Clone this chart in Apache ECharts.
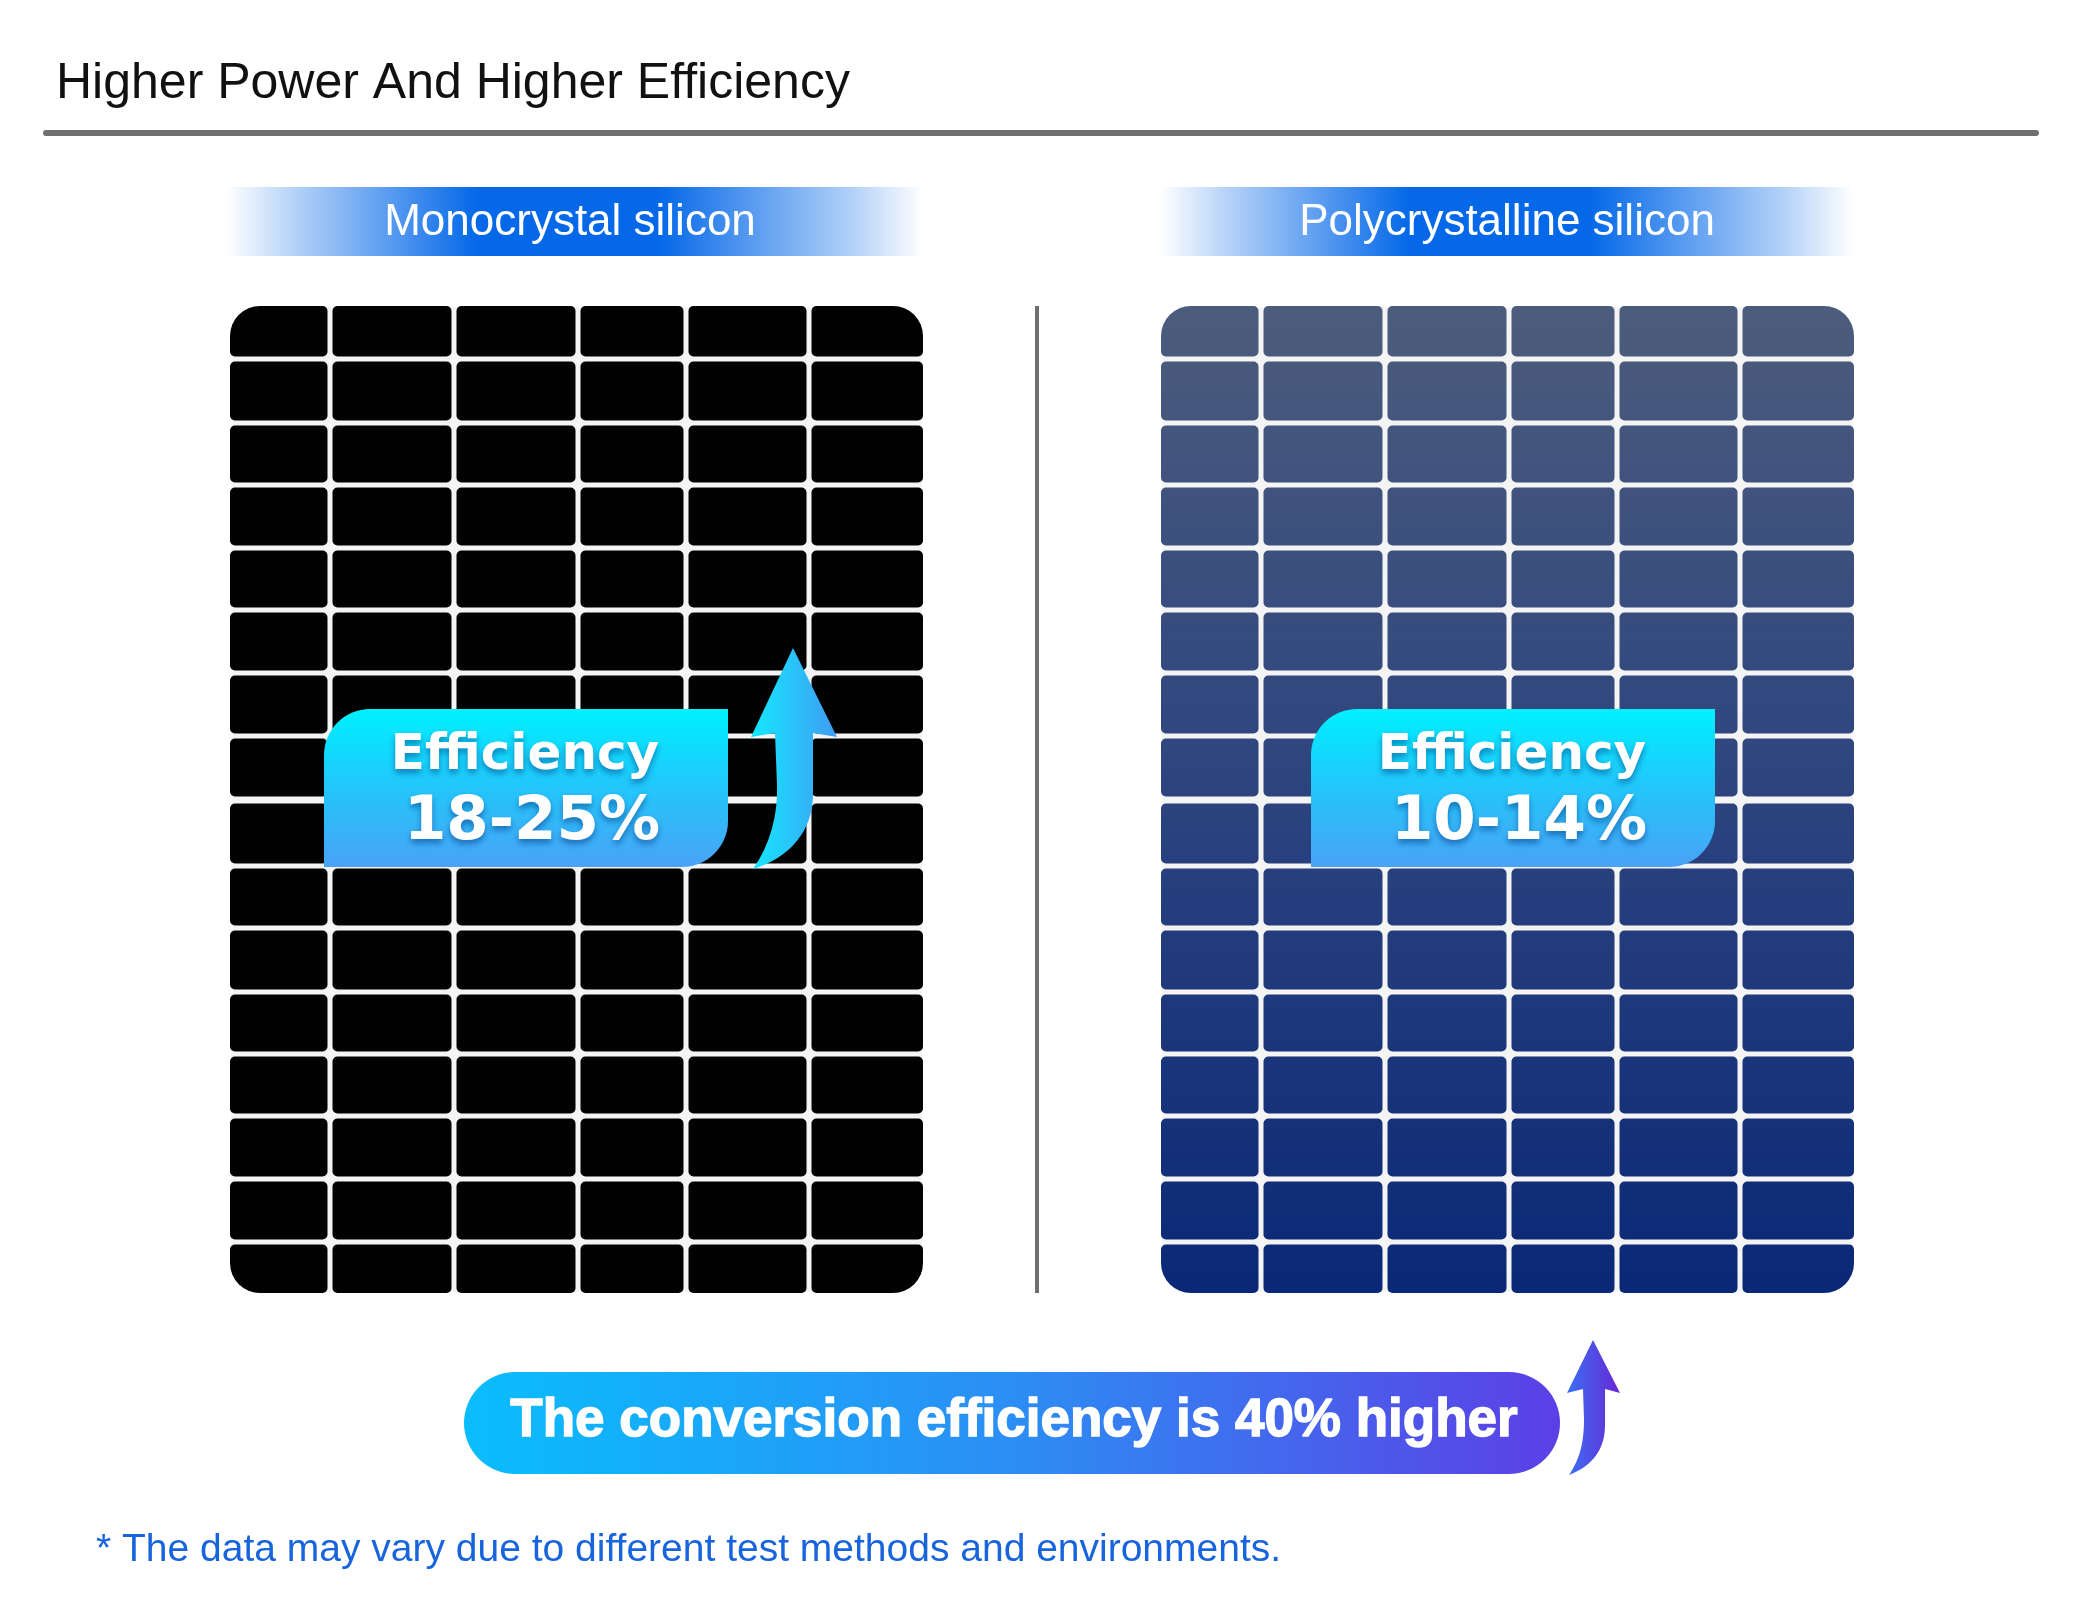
<!DOCTYPE html>
<html>
<head>
<meta charset="utf-8">
<title>Higher Power And Higher Efficiency</title>
<script src="https://cdn.jsdelivr.net/npm/echarts@6/dist/echarts.min.js"></script>
<style>
  html, body { margin: 0; padding: 0; background: #ffffff; }
  #chart { width: 2083px; height: 1597px; }
</style>
</head>
<body>
<div id="chart"></div>
<script>
// Data
const titleText = 'Higher Power And Higher Efficiency';
const panelNames = ['Monocrystal silicon', 'Polycrystalline silicon'];
const efficiencyMin = [18, 10];
const efficiencyMax = [25, 14];
const efficiencyGain = [40];
const noteText = '* The data may vary due to different test methods and environments.';

// Layout of the solar cells inside one panel (px from the panel's top-left corner)
const COL_EDGES = [0, 100, 224, 348, 456, 579, 693];
const ROW_EDGES = [0, 53, 117, 179, 242, 304, 367, 430, 494, 560, 622, 686, 748, 810, 873, 936, 987];
const MID_EDGE = 8;          // the thicker bus line across the middle
const LINE = 5;              // gap between cells
const MID_LINE = 7;
const PANEL_RADIUS = 30;
const CELL_RADIUS = 5;
const PANEL_W = 693;
const PANEL_H = 987;

// Dom elements
const chartElement = document.getElementById('chart');
const chart = echarts.init(chartElement);

const LG = echarts.graphic.LinearGradient;

// cell list per panel: [col, row]
const cells = [];
for (let r = 0; r < ROW_EDGES.length - 1; r++) {
  for (let c = 0; c < COL_EDGES.length - 1; c++) {
    cells.push([c, r]);
  }
}

// fill of the cells for a panel
function cellFill(panel, api) {
  if (panel === 0) return '#020202';
  const top = api.coord([0, 0])[1];
  const bottom = api.coord([0, PANEL_H])[1];
  return new LG(0, top, 0, bottom, [
    { offset: 0, color: '#4c5c7c' },
    { offset: 0.45, color: '#2f467f' },
    { offset: 1, color: '#0a2877' }
  ], true);
}

function renderBackground(params, api) {
  const p0 = api.coord([0, 0]);
  const p1 = api.coord([PANEL_W, PANEL_H]);
  return {
    type: 'rect',
    shape: { x: p0[0] + 1, y: p0[1] + 1, width: p1[0] - p0[0] - 2, height: p1[1] - p0[1] - 2, r: PANEL_RADIUS - 1 },
    style: { fill: '#f4f4f4' }
  };
}

function makeCellRenderer(panel) {
  return function (params, api) {
    const c = api.value(0);
    const r = api.value(1);
    const lastC = COL_EDGES.length - 2;
    const lastR = ROW_EDGES.length - 2;
    const gap = i => (i === MID_EDGE ? MID_LINE : LINE) / 2;
    const p0 = api.coord([COL_EDGES[c], ROW_EDGES[r]]);
    const p1 = api.coord([COL_EDGES[c + 1], ROW_EDGES[r + 1]]);
    const x0 = p0[0] + (c === 0 ? 0 : LINE / 2);
    const x1 = p1[0] - (c === lastC ? 0 : LINE / 2);
    const y0 = p0[1] + (r === 0 ? 0 : gap(r));
    const y1 = p1[1] - (r === lastR ? 0 : gap(r + 1));
    const radius = [
      c === 0 && r === 0 ? PANEL_RADIUS : CELL_RADIUS,
      c === lastC && r === 0 ? PANEL_RADIUS : CELL_RADIUS,
      c === lastC && r === lastR ? PANEL_RADIUS : CELL_RADIUS,
      c === 0 && r === lastR ? PANEL_RADIUS : CELL_RADIUS
    ];
    return {
      type: 'rect',
      shape: { x: x0, y: y0, width: x1 - x0, height: y1 - y0, r: radius },
      style: { fill: cellFill(panel, api) }
    };
  };
}

// badge position inside each panel
const BADGE_LEFT = [94, 150];
const BADGE_TOP = 403;
const BADGE_W = 404;
const BADGE_H = 158;

function textStyle(text, font, align) {
  return {
    text: text,
    font: font,
    fill: '#ffffff',
    textAlign: align, align: align,
    textVerticalAlign: 'middle', verticalAlign: 'middle',
    textShadowColor: 'rgba(0, 55, 130, 0.55)',
    textShadowBlur: 6,
    textShadowOffsetY: 4
  };
}

function renderBadge(params, api) {
  const panel = api.value(0);
  const lo = api.value(1);
  const hi = api.value(2);
  const bx = BADGE_LEFT[panel];
  const p0 = api.coord([bx, BADGE_TOP]);
  const p1 = api.coord([bx + BADGE_W, BADGE_TOP + BADGE_H]);
  const cx = (p0[0] + p1[0]) / 2;
  const children = [
    {
      type: 'rect',
      shape: { x: p0[0], y: p0[1], width: p1[0] - p0[0], height: p1[1] - p0[1], r: [46, 0, 46, 0] },
      style: {
        fill: new LG(0, 0, 0, 1, [
          { offset: 0, color: '#00f0ff' },
          { offset: 0.5, color: '#22c6fb' },
          { offset: 1, color: '#4aa2f6' }
        ])
      }
    },
    {
      type: 'text',
      x: cx - 1, y: p0[1] + 47,
      style: textStyle('Efficiency', 'bold 50px "DejaVu Sans"', 'center')
    },
    {
      type: 'text',
      x: cx + 6, y: p0[1] + 114,
      style: textStyle(lo + '-' + hi + '%', 'bold 61px "DejaVu Sans"', 'center')
    }
  ];

  // the upward arrow marks the panel with the higher efficiency
  if (hi === Math.max.apply(null, efficiencyMax)) {
    const pt = (x, y) => api.coord([x, y]).join(' ');
    const d = 'M ' + pt(563, 342) + ' L ' + pt(607, 431) + ' L ' + pt(583, 427) +
      ' L ' + pt(583, 489) + ' C ' + pt(583, 524) + ' ' + pt(560, 552) + ' ' + pt(523, 563) +
      ' C ' + pt(540, 539) + ' ' + pt(548, 509) + ' ' + pt(547, 479) +
      ' L ' + pt(545, 427) + ' L ' + pt(521, 431) + ' Z';
    children.push({
      type: 'path',
      shape: { pathData: d },
      style: {
        fill: new LG(0, 0, 1, 0, [
          { offset: 0, color: '#14e8ff' },
          { offset: 1, color: '#409cf3' }
        ])
      }
    });
  }
  return { type: 'group', children: children };
}

// bottom banner with the efficiency gain and its arrow
function renderBanner(params, api) {
  const gain = api.value(0);
  return {
    type: 'group',
    children: [
      {
        type: 'rect',
        shape: { x: 464, y: 1372, width: 1096, height: 102, r: 51 },
        style: {
          fill: new LG(0, 0, 1, 0, [
            { offset: 0, color: '#0abdfd' },
            { offset: 0.5, color: '#2c8ef4' },
            { offset: 1, color: '#5c3fe6' }
          ])
        }
      },
      {
        type: 'text', x: 1014, y: 1421,
        style: {
          text: 'The conversion efficiency is ' + gain + '% higher',
          font: 'bold 53px "Liberation Sans"', fill: '#ffffff',
          stroke: '#ffffff', lineWidth: 1.4,
          textStroke: '#ffffff', textStrokeWidth: 1.4,
          textAlign: 'center', align: 'center',
          textVerticalAlign: 'middle', verticalAlign: 'middle'
        }
      },
      {
        type: 'path',
        shape: {
          pathData: 'M 1593 1340 L 1620 1393 L 1605 1389 L 1605 1425 C 1605 1450 1592 1466 1569 1475 ' +
            'C 1578 1462 1584 1446 1584 1420 L 1583 1389 L 1567 1393 Z'
        },
        style: {
          fill: new LG(0, 0, 1, 0, [
            { offset: 0, color: '#3a70f2' },
            { offset: 1, color: '#6a26d6' }
          ])
        }
      }
    ]
  };
}

// Header band gradient
function bandFill() {
  return new LG(0, 0, 1, 0, [
    { offset: 0, color: 'rgba(4, 104, 232, 0)' },
    { offset: 0.1, color: 'rgba(4, 104, 232, 0.3)' },
    { offset: 0.36, color: 'rgba(4, 104, 232, 1)' },
    { offset: 0.62, color: 'rgba(4, 104, 232, 1)' },
    { offset: 0.9, color: 'rgba(4, 104, 232, 0.3)' },
    { offset: 1, color: 'rgba(4, 104, 232, 0)' }
  ]);
}

function plainText(x, y, text, font, fill, align) {
  return {
    type: 'text', x: x, y: y, z: 10,
    style: {
      text: text, font: font, fill: fill,
      textAlign: align, align: align,
      textVerticalAlign: 'middle', verticalAlign: 'middle'
    }
  };
}

const panelLeft = [230, 1161];

const options = {
  animation: false,
  backgroundColor: '#ffffff',
  grid: panelLeft.map(left => ({ left: left, top: 306, width: PANEL_W, height: PANEL_H, show: false })),
  xAxis: panelLeft.map((_, i) => ({ gridIndex: i, type: 'value', min: 0, max: PANEL_W, show: false })),
  yAxis: panelLeft.map((_, i) => ({ gridIndex: i, type: 'value', min: 0, max: PANEL_H, inverse: true, show: false })),
  series: [],
  graphic: [
    // title and rule
    plainText(56, 84, titleText, '50px "Liberation Sans"', '#111111', 'left'),
    {
      type: 'line', z: 10,
      shape: { x1: 46, y1: 133, x2: 2036, y2: 133 },
      style: { stroke: '#707070', lineWidth: 6, lineCap: 'round' }
    },
    // header bands
    { type: 'rect', z: 5, shape: { x: 226, y: 187, width: 697, height: 69 }, style: { fill: bandFill() } },
    { type: 'rect', z: 5, shape: { x: 1160, y: 187, width: 693, height: 69 }, style: { fill: bandFill() } },
    plainText(570, 223, panelNames[0], '44px "Liberation Sans"', '#ffffff', 'center'),
    plainText(1507, 223, panelNames[1], '44px "Liberation Sans"', '#ffffff', 'center'),
    // divider
    {
      type: 'line', z: 10,
      shape: { x1: 1037, y1: 306, x2: 1037, y2: 1293 },
      style: { stroke: '#6f6f6f', lineWidth: 4 }
    },
    // footnote
    plainText(96, 1550, noteText, '39px "Liberation Sans"', '#1764dc', 'left')
  ]
};

// one background, one cell layer and one badge per panel
panelLeft.forEach((_, i) => {
  options.series.push({
    type: 'custom', xAxisIndex: i, yAxisIndex: i, z: 1, clip: false, silent: true,
    renderItem: renderBackground,
    data: [[i]]
  });
  options.series.push({
    type: 'custom', xAxisIndex: i, yAxisIndex: i, z: 2, clip: false, silent: true,
    renderItem: makeCellRenderer(i),
    data: cells
  });
  options.series.push({
    type: 'custom', xAxisIndex: i, yAxisIndex: i, z: 3, clip: false, silent: true,
    renderItem: renderBadge,
    data: [[i, efficiencyMin[i], efficiencyMax[i]]]
  });
});

options.series.push({
  type: 'custom', coordinateSystem: 'none', z: 4, silent: true,
  renderItem: renderBanner,
  data: efficiencyGain.map(v => [v])
});

chart.setOption(options);

window.addEventListener('resize', () => {
  chart.resize();
});
</script>
</body>
</html>
